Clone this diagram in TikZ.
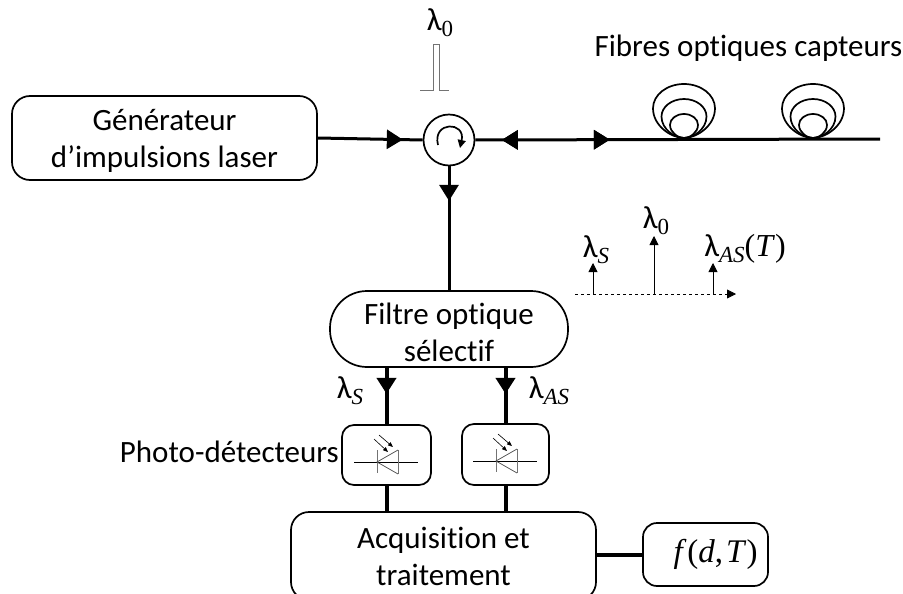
\documentclass[tikz,border=0pt]{standalone}
\usepackage{fontspec}
\setmainfont[Ligatures=NoCommon]{Carlito}
\newfontfamily\mathfnt{Liberation Serif}
\usetikzlibrary{arrows.meta,decorations.markings}
\newcommand{\lamsub}[1]{λ\raisebox{-6pt}{\fontsize{23}{23}\selectfont\mathfnt #1}}
\tikzset{
  txt/.style={font=\fontsize{31}{37}\selectfont,align=center,inner sep=0pt},
  lam/.style={font=\fontsize{32}{37}\selectfont,inner sep=0pt},
  boxed/.style={txt,draw,line width=1.7pt,rounded corners=#1},
  wire/.style={line width=3pt},
  fatwire/.style={line width=4pt},
  thin gray/.style={line width=1pt,black!55},
  tipat/.style={postaction={decorate},decoration={markings,mark=at position #1 with {\arrow{Triangle[length=16pt,width=19pt]}}}},
  tipback/.style={postaction={decorate},decoration={markings,mark=at position #1 with {\arrowreversed{Triangle[length=16pt,width=19pt]}}}},
  small tip/.style={-{Triangle[length=9pt,width=9pt]}}
}
\begin{document}
\begin{tikzpicture}[x=1pt,y=-1pt]
\useasboundingbox (0,0) rectangle (903,594);
%%Blocks
\node[boxed=18pt,minimum width=305pt,minimum height=84pt] (gen) at (164.5,138) {\rule{0pt}{26pt}Générateur\\d’impulsions laser};
\node[draw,circle,line width=1.7pt,minimum size=51pt,inner sep=0pt] (circ) at (449,140) {};
\node[boxed=37pt,minimum width=238pt,minimum height=76pt] (filter) at (449,329) {\rule{0pt}{28pt}Filtre optique\\sélectif};
\node[boxed=12pt,minimum width=89pt,minimum height=60pt] (detS) at (386.5,455) {};
\node[boxed=12pt,minimum width=87pt,minimum height=61pt] (detAS) at (505.5,454.5) {};
\node[boxed=18pt,minimum width=305pt,minimum height=88pt] (acq) at (443.5,556) {Acquisition et\\traitement};
\node[boxed=14pt,minimum width=125pt,minimum height=63pt,font=\fontsize{33}{37}\selectfont\mathfnt] (result) at (705.5,554.5) {\hspace*{20pt}\textit{f}\kern1pt(\textit{d},\kern3pt\textit{T})};
\coordinate (fibreend) at (880,139);
%%Connectors
\draw[wire,tipat=85pt] (gen.east) -- (circ.west);
\draw[wire,tipback=26.5pt,tipat=134.5pt] (circ.east) -- (fibreend);
\draw[wire,tipat=34.5pt] (circ.south) -- (filter.north);
\draw[fatwire,tipat=26pt] (filter.south -| detS) -- (detS.north);
\draw[fatwire,tipat=26pt] (filter.south -| detAS) -- (detAS.north);
\draw[fatwire] (detS.south) -- (acq.north -| detS);
\draw[fatwire] (detAS.south) -- (acq.north -| detAS);
\draw[fatwire] (acq.east |- result) -- (result.west);
%%Circulator
\draw[line width=1.7pt,-{Triangle[length=8pt,width=8pt]}] (438,145) .. controls (432,121) and (466,121) .. (460,148);
%%Pulse
\draw[thin gray] (420,91) -- (433,91) -- (433,45) -- (439,45) -- (439,91) -- (449,91);
%%Coils
\foreach \xc in {684,813}{
  \foreach \rx/\ry in {31/54,22.5/39,14/24}{
    \draw[line width=1.7pt] (\xc,138) .. controls ({\xc-0.4*\rx},138) and ({\xc-\rx},{138-0.22*\ry}) .. ({\xc-\rx},{138-0.55*\ry})
      .. controls ({\xc-\rx},{138-0.8*\ry}) and ({\xc-0.55*\rx},{138-\ry}) .. (\xc,{138-\ry})
      .. controls ({\xc+0.55*\rx},{138-\ry}) and ({\xc+\rx},{138-0.8*\ry}) .. ({\xc+\rx},{138-0.55*\ry})
      .. controls ({\xc+\rx},{138-0.22*\ry}) and ({\xc+0.4*\rx},138) .. (\xc,138);
  }
}
%%Spectrum
\draw[dashed,line width=0.8pt,small tip] (575,294) -- (736,294);
\draw[line width=0.9pt,small tip] (593,294) -- (593,263);
\draw[line width=0.9pt,small tip] (654,294) -- (654,236);
\draw[line width=0.9pt,small tip] (713,294) -- (713,263);
%%Diodes
\foreach \dx/\dy in {0/0,119/-1}{
  \begin{scope}[shift={(\dx,\dy)}]
    \draw[line width=0.7pt] (354,462) -- (418,462);
    \draw[thin gray] (377,450) -- (377,473);
    \draw[thin gray] (398,450) -- (398,474);
    \draw[line width=0.7pt,black!70] (398,450) -- (377,462) -- (398,474);
    \draw[line width=0.6pt,-{Triangle[length=5pt,width=4pt]}] (374,439) -- (388,452);
    \draw[line width=0.6pt,-{Triangle[length=5pt,width=4pt]}] (379,435) -- (393,447);
  \end{scope}
}
%%Label
\node[lam] (lamPulse) at (440,23) {\lamsub{0}};
\node[txt] (fibres) at (748.5,48) {Fibres optiques capteurs};
\node[lam] (lamSpecS) at (596,250) {\lamsub{\textit{S}}};
\node[lam] (lamSpecZero) at (656,221) {\lamsub{0}};
\node[lam] (lamSpecAS) at (745,249) {\lamsub{\textit{AS}}{\mathfnt (\textit{T})}};
\node[lam] (lamS) at (350,391) {\lamsub{\textit{S}}};
\node[lam] (lamAS) at (549,391) {\lamsub{\textit{AS}}};
\node[txt,anchor=east] (photo) at (339,452) {Photo-détecteurs};
\end{tikzpicture}
\end{document}
